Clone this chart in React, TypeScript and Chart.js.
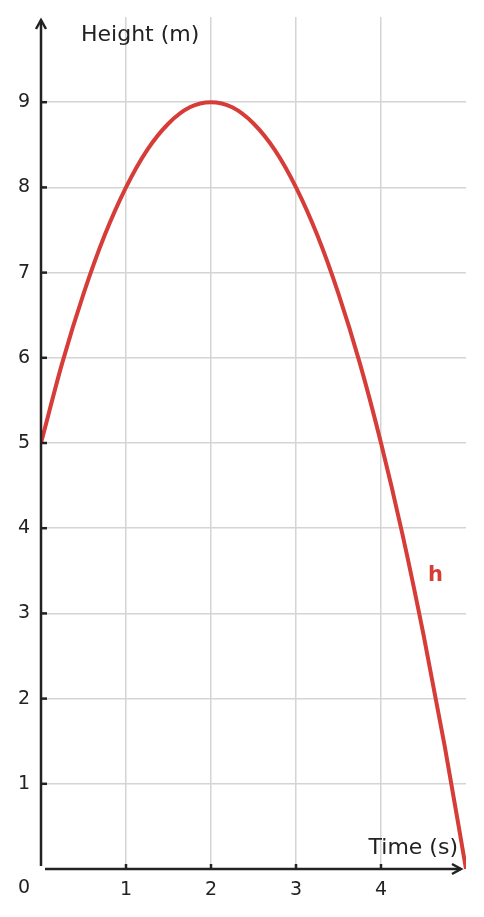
import { useEffect, useRef } from 'react';
import { Chart, registerables } from 'chart.js';

Chart.register(...registerables);

// time (s) and height (m)
const times = [
  0, 0.25, 0.5, 0.75, 1, 1.25, 1.5, 1.75, 2, 2.25, 2.5, 2.75, 3, 3.25, 3.5,
  3.75, 4, 4.25, 4.5, 4.75, 5,
];
const heights = [
  5, 5.94, 6.75, 7.44, 8, 8.44, 8.75, 8.94, 9, 8.94, 8.75, 8.44, 8, 7.44,
  6.75, 5.94, 5, 3.94, 2.75, 1.44, 0,
];
const xTicks = [1, 2, 3, 4];
const yTicks = [1, 2, 3, 4, 5, 6, 7, 8, 9];

const FONT = '"DejaVu Sans", sans-serif';
const INK = '#222222';
const RED = '#d63c38';

const axesPlugin = {
  id: 'arrowAxes',
  afterDatasetsDraw(chart: any) {
    const { ctx, chartArea, scales } = chart;
    const { left, right, top, bottom } = chartArea;
    const x = scales.x;
    const y = scales.y;
    ctx.save();
    ctx.strokeStyle = INK;
    ctx.fillStyle = INK;
    ctx.lineWidth = 2.5;
    ctx.lineCap = 'butt';

    // y axis with arrow
    ctx.beginPath();
    ctx.moveTo(left, bottom - 3);
    ctx.lineTo(left, top + 3);
    ctx.stroke();
    ctx.beginPath();
    ctx.moveTo(left - 5, top + 12);
    ctx.lineTo(left, top + 3);
    ctx.lineTo(left + 5, top + 12);
    ctx.stroke();

    // x axis with arrow
    ctx.beginPath();
    ctx.moveTo(left + 4, bottom);
    ctx.lineTo(right - 5, bottom);
    ctx.stroke();
    ctx.beginPath();
    ctx.moveTo(right - 14, bottom - 5);
    ctx.lineTo(right - 5, bottom);
    ctx.lineTo(right - 14, bottom + 5);
    ctx.stroke();

    // inner tick marks
    ctx.lineWidth = 2.5;
    xTicks.forEach((t) => {
      const px = x.getPixelForValue(t);
      ctx.beginPath();
      ctx.moveTo(px, bottom);
      ctx.lineTo(px, bottom - 5);
      ctx.stroke();
    });
    yTicks.forEach((v) => {
      const py = y.getPixelForValue(v);
      ctx.beginPath();
      ctx.moveTo(left, py);
      ctx.lineTo(left + 6, py);
      ctx.stroke();
    });

    // labels
    ctx.font = `22px ${FONT}`;
    ctx.textBaseline = 'middle';
    ctx.textAlign = 'left';
    ctx.fillText('Height (m)', left + 40, top + 18);
    ctx.textAlign = 'right';
    ctx.fillText('Time (s)', right - 8, bottom - 21);

    ctx.font = `19px ${FONT}`;
    ctx.textAlign = 'center';
    ctx.fillText('0', 24, bottom + 19);

    ctx.fillStyle = RED;
    ctx.font = `bold 21px ${FONT}`;
    ctx.fillText('h', x.getPixelForValue(4.64), y.getPixelForValue(3.45));
    ctx.restore();
  },
};

export default function App() {
  const canvasRef = useRef<HTMLCanvasElement>(null);

  useEffect(() => {
    if (!canvasRef.current) return;
    const chart = new Chart(canvasRef.current, {
      type: 'line',
      data: {
        datasets: [
          {
            data: times.map((t, i) => ({ x: t, y: heights[i] })),
            borderColor: RED,
            borderWidth: 4,
            pointRadius: 0,
            cubicInterpolationMode: 'monotone',
            fill: false,
          },
        ],
      },
      options: {
        animation: false,
        responsive: true,
        maintainAspectRatio: false,
        layout: { padding: { top: 17, right: 18, left: 0, bottom: 0 } },
        plugins: { legend: { display: false }, tooltip: { enabled: false } },
        scales: {
          x: {
            type: 'linear',
            min: 0,
            max: 5,
            border: { display: false },
            grid: {
              color: (c: any) =>
                c.tick.value > 0 && c.tick.value < 5 ? '#d4d4d4' : 'transparent',
              lineWidth: 1.5,
              drawTicks: false,
            },
            ticks: {
              stepSize: 1,
              padding: 10,
              color: INK,
              font: { family: FONT, size: 19 },
              callback: (v: any) => (v > 0 && v < 5 ? String(v) : ''),
            },
            afterFit: (s: any) => {
              s.height = 48;
              s.paddingLeft = 0;
              s.paddingRight = 0;
            },
          },
          y: {
            type: 'linear',
            min: 0,
            max: 10,
            border: { display: false },
            grid: {
              color: (c: any) =>
                c.tick.value > 0 && c.tick.value < 10 ? '#d4d4d4' : 'transparent',
              lineWidth: 1.5,
              drawTicks: false,
            },
            ticks: {
              stepSize: 1,
              padding: 11,
              color: INK,
              font: { family: FONT, size: 19 },
              callback: (v: any) => (v > 0 && v < 10 ? String(v) : ''),
            },
            afterFit: (s: any) => {
              s.width = 41;
              s.paddingTop = 0;
              s.paddingBottom = 0;
            },
          },
        },
      },
      plugins: [axesPlugin],
    });
    return () => chart.destroy();
  }, []);

  return (
    <div
      style={{
        position: 'absolute',
        left: 0,
        top: 0,
        width: 484,
        height: 917,
        background: '#ffffff',
      }}
    >
      <canvas ref={canvasRef} />
    </div>
  );
}
